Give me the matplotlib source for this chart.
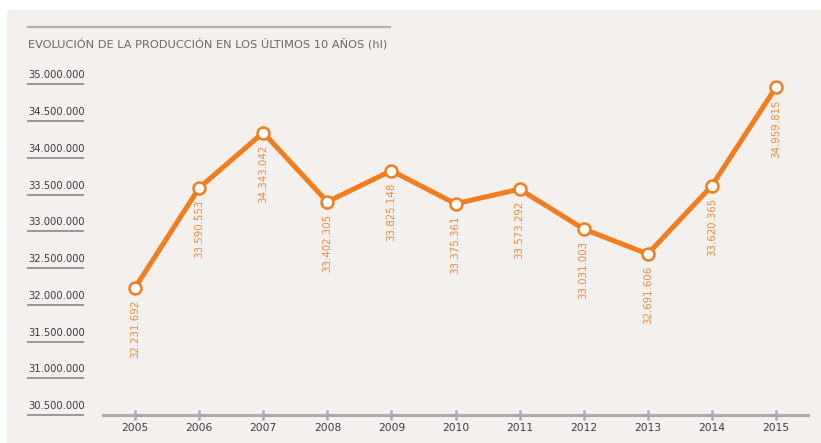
import matplotlib
matplotlib.use("Agg")
import matplotlib.pyplot as plt
import matplotlib.transforms as mtransforms
from matplotlib.patches import Rectangle
from matplotlib.lines import Line2D

years = [2005, 2006, 2007, 2008, 2009, 2010, 2011, 2012, 2013, 2014, 2015]
production = [32231692, 33590553, 34343042, 33402305, 33825148, 33375361,
              33573292, 33031003, 32691606, 33620365, 34959815]
ytick_values = [30500000, 31000000, 31500000, 32000000, 32500000, 33000000,
                33500000, 34000000, 34500000, 35000000]
title = "EVOLUCIÓN DE LA PRODUCCIÓN EN LOS ÚLTIMOS 10 AÑOS (hl)"


def fmt(v):
    return f"{v:,}".replace(",", ".")


W, H = 821, 443
fig = plt.figure(figsize=(W / 100, H / 100), dpi=100, facecolor="white")

BG = "#f3f0ed"
ORANGE = "#f27d1f"
LABEL_ORANGE = "#f28a3c"
DARK = "#3a3a48"
GRAY = "#9a9698"
FONT = "DejaVu Sans"

# background panel
fig.patches.append(Rectangle((7 / W, 0), 1 - 7 / W, (H - 10) / H,
                             transform=fig.transFigure, facecolor=BG,
                             edgecolor="none", zorder=-10))

# top rule
fig.add_artist(Line2D([28 / W, 390 / W], [1 - 27 / H, 1 - 27 / H],
                      transform=fig.transFigure, color="#b3adab", lw=1.6))
fig.text(28 / W, 1 - 44 / H, title, fontsize=8.2, color="#6e6668",
         family=FONT, ha="left", va="center")

ax_left, ax_right = 103 / W, 808 / W
ax_bottom, ax_top = (H - 415) / H, (H - 66) / H
ax = fig.add_axes([ax_left, ax_bottom, ax_right - ax_left, ax_top - ax_bottom])
ax.set_zorder(5)
ax.set_facecolor("none")
ax.set_xlim(2004.5, 2015.5)
ax.set_ylim(30500000, 35250000)

for s in ["top", "right", "left"]:
    ax.spines[s].set_visible(False)
ax.spines["bottom"].set_color("#a9a9b1")
ax.spines["bottom"].set_linewidth(2.2)
ax.set_yticks([])
ax.set_xticks(years)
ax.set_xticklabels([str(y) for y in years], fontsize=7.7, color=DARK,
                   family=FONT)
ax.tick_params(axis="x", length=7, width=1.8, color="#a9a9b1", pad=2,
               direction="inout")

# y tick labels with underlines
trans = mtransforms.blended_transform_factory(fig.transFigure, ax.transData)
for v in ytick_values:
    ax.add_line(Line2D([28 / W, 83 / W], [v, v], transform=trans,
                       color=GRAY, lw=1.4, clip_on=False))
    t = ax.text(28 / W, v, fmt(v), fontsize=7.2, color=DARK, family=FONT,
                ha="left", va="bottom", clip_on=False)
    t.set_transform(trans + mtransforms.ScaledTranslation(0, 4 / 100, fig.dpi_scale_trans))

# line
ax.plot(years, production, color=ORANGE, lw=3.6, marker="o", markersize=8.6,
        markerfacecolor="white", markeredgecolor=ORANGE, markeredgewidth=1.8,
        zorder=3, clip_on=False)

for x, v in zip(years, production):
    ax.annotate(fmt(v), (x, v), xytext=(0, -8.5), textcoords="offset points",
                rotation=90, ha="center", va="top", fontsize=7.4,
                color=LABEL_ORANGE, family=FONT)

fig.savefig("out.png", dpi=100, facecolor="white")
